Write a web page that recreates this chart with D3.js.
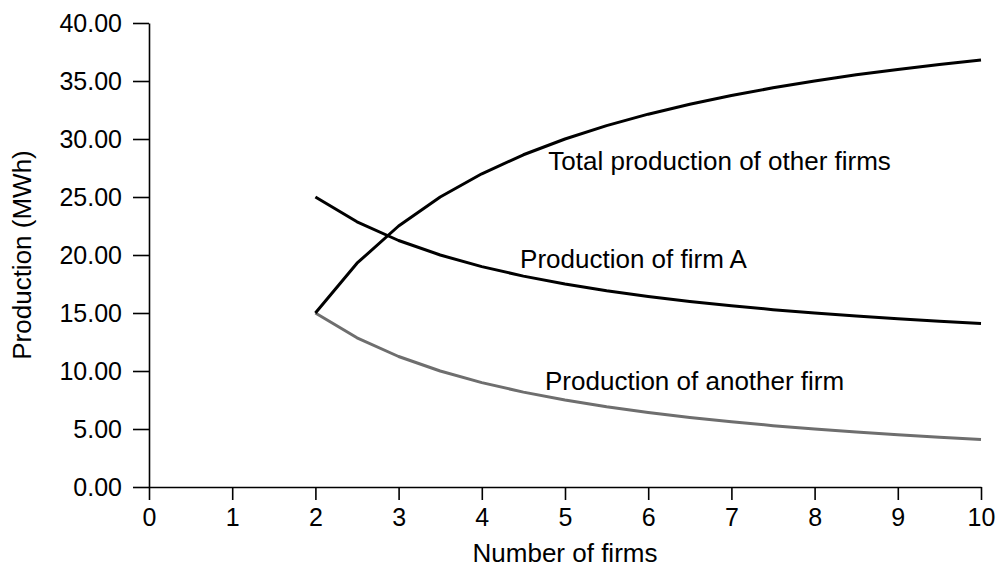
<!DOCTYPE html>
<html>
<head>
<meta charset="utf-8">
<script src="https://cdn.jsdelivr.net/npm/d3@7"></script>
<style>
  body { margin: 0; background: #fff; }
  svg text { font-family: "Liberation Sans", Arial, sans-serif; fill: #000; }
</style>
</head>
<body>
<svg width="999" height="570"></svg>
<script>
// number of firms (x) and production in MWh
var firms       = [2, 2.5, 3, 3.5, 4, 4.5, 5, 5.5, 6, 6.5, 7, 7.5, 8, 8.5, 9, 9.5, 10];
var firmA       = [25.00, 22.86, 21.25, 20.00, 19.00, 18.18, 17.50, 16.92, 16.43, 16.00, 15.63, 15.29, 15.00, 14.74, 14.50, 14.29, 14.09];
var otherTotal  = [15.00, 19.29, 22.50, 25.00, 27.00, 28.64, 30.00, 31.15, 32.14, 33.00, 33.75, 34.41, 35.00, 35.53, 36.00, 36.43, 36.82];
var anotherFirm = [15.00, 12.86, 11.25, 10.00, 9.00, 8.18, 7.50, 6.92, 6.43, 6.00, 5.63, 5.29, 5.00, 4.74, 4.50, 4.29, 4.09];

var xTicks = [0, 1, 2, 3, 4, 5, 6, 7, 8, 9, 10];
var yTicks = [0, 5, 10, 15, 20, 25, 30, 35, 40];

// series labels, anchored in data units
var labelText = ["Total production of other firms", "Production of firm A", "Production of another firm"];
var labelX    = [4.80, 4.46, 4.76];
var labelY    = [27.35, 18.9, 8.4];

var margin = {top: 23, right: 18, bottom: 83, left: 149};
var width = 999 - margin.left - margin.right,
    height = 570 - margin.top - margin.bottom;

var svg = d3.select("svg");
var g = svg.append("g")
    .attr("transform", "translate(" + margin.left + "," + margin.top + ")");

var x = d3.scaleLinear().domain([0, 10]).range([0, width]);
var y = d3.scaleLinear().domain([0, 40]).range([height, 0]);

// axes
var yAxis = g.append("g")
    .call(d3.axisLeft(y).tickValues(yTicks).tickSize(16).tickSizeOuter(0).tickPadding(11)
        .tickFormat(d3.format(".2f")));
var xAxis = g.append("g")
    .attr("transform", "translate(0," + height + ")")
    .call(d3.axisBottom(x).tickValues(xTicks).tickSize(13).tickSizeOuter(0).tickPadding(8)
        .tickFormat(d3.format("d")));

[xAxis, yAxis].forEach(function(a){
    a.selectAll("path, line").attr("stroke", "#000").attr("stroke-width", 1.6);
    a.selectAll("text").attr("font-size", "25px").attr("fill", "#000")
        .attr("font-family", "Liberation Sans, Arial, sans-serif");
});

// axis titles
g.append("text")
    .attr("x", width / 2).attr("y", height + 75)
    .attr("text-anchor", "middle").attr("font-size", "26px")
    .text("Number of firms");
g.append("text")
    .attr("transform", "translate(" + (-118) + "," + (height / 2) + ") rotate(-90)")
    .attr("text-anchor", "middle").attr("font-size", "26px")
    .text("Production (MWh)");

// lines
var line = d3.line()
    .x(function(d){ return x(d[0]); })
    .y(function(d){ return y(d[1]); });

var series = [
    {vals: otherTotal, color: "#000", w: 3},
    {vals: firmA, color: "#000", w: 3},
    {vals: anotherFirm, color: "#6e6e6e", w: 3}
];

g.selectAll(".series")
    .data(series.slice().reverse())
    .enter().append("path")
    .attr("class", "series")
    .attr("fill", "none")
    .attr("stroke", function(d){ return d.color; })
    .attr("stroke-width", function(d){ return d.w; })
    .attr("stroke-linejoin", "round")
    .attr("d", function(d){ return line(firms.map(function(f, i){ return [f, d.vals[i]]; })); });

// labels
g.selectAll(".lbl")
    .data(labelText)
    .enter().append("text")
    .attr("class", "lbl")
    .attr("x", function(d, i){ return x(labelX[i]); })
    .attr("y", function(d, i){ return y(labelY[i]); })
    .attr("font-size", "26px")
    .text(function(d){ return d; });
</script>
</body>
</html>
